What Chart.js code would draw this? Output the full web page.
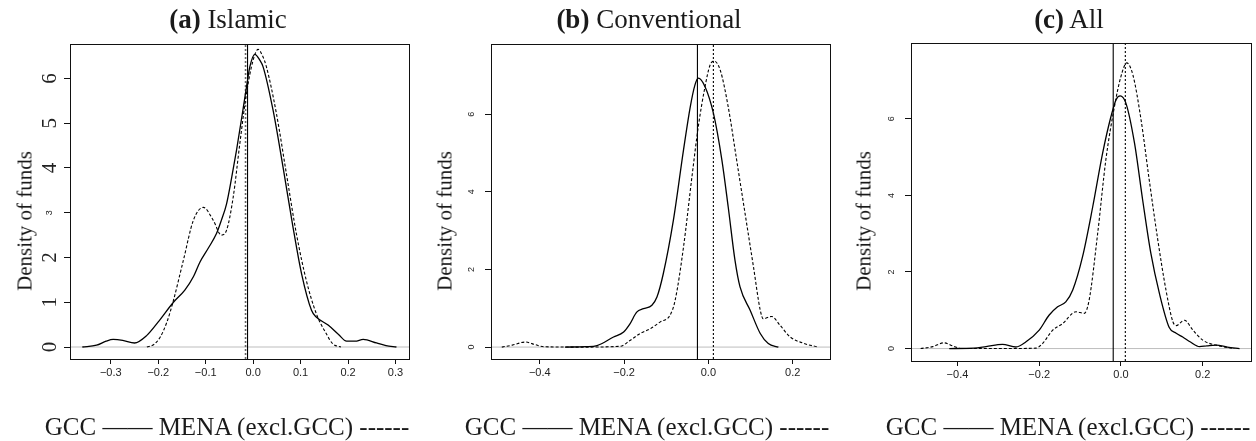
<!DOCTYPE html>
<html>
<head>
<meta charset="utf-8">
<script src="https://cdn.jsdelivr.net/npm/chart.js@4/dist/chart.umd.min.js"></script>
<style>
  html, body { margin: 0; padding: 0; background: #fff; }
  body { width: 1256px; height: 441px; position: relative; overflow: hidden; }
  canvas { position: absolute; top: 0; }
  .txt { position: absolute; white-space: nowrap; font-family: 'Liberation Serif', serif; color: #1a1a1a; line-height: 1; }
  .title { font-size: 27px; transform: translateX(-50%); }
  .legend { font-size: 25px; transform: translateX(-50%); }
  .ytitle { font-size: 21px; transform: translate(-50%, -50%) rotate(-90deg); }
</style>
</head>
<body>
<canvas id="cA" width="420" height="441" style="left:0px"></canvas>
<canvas id="cB" width="416" height="441" style="left:420px"></canvas>
<canvas id="cC" width="420" height="441" style="left:836px"></canvas>

<div class="txt title" style="left:228px;top:6px"><b>(a)</b> Islamic</div>
<div class="txt title" style="left:649px;top:6px"><b>(b)</b> Conventional</div>
<div class="txt title" style="left:1069px;top:6px"><b>(c)</b> All</div>

<div class="txt ytitle" style="left:25px;top:221px">Density of funds</div>
<div class="txt ytitle" style="left:445px;top:221px">Density of funds</div>
<div class="txt ytitle" style="left:864px;top:221px">Density of funds</div>

<div class="txt legend" style="left:227px;top:414px">GCC —— MENA (excl.GCC) ------</div>
<div class="txt legend" style="left:647px;top:414px">GCC —— MENA (excl.GCC) ------</div>
<div class="txt legend" style="left:1068px;top:414px">GCC —— MENA (excl.GCC) ------</div>

<script>
// ---------------- DATA ----------------
// Panel (a) Islamic
const islamicGccX  = [-0.36,-0.33,-0.31,-0.295,-0.275,-0.25,-0.224,-0.2,-0.168,-0.144,-0.126,-0.112,-0.095,-0.077,-0.067,-0.056,-0.045,-0.035,-0.021,-0.014,-0.007,0.0036,0.014,0.021,0.042,0.063,0.084,0.102,0.123,0.133,0.158,0.18,0.197,0.215,0.232,0.26,0.28,0.302];
const islamicGccY  = [0.0,0.04,0.13,0.17,0.15,0.09,0.26,0.56,1.0,1.27,1.57,1.9,2.2,2.54,2.83,3.2,3.8,4.4,5.33,5.81,6.26,6.54,6.41,6.26,5.29,4.02,2.68,1.64,0.82,0.67,0.49,0.28,0.13,0.13,0.17,0.09,0.03,0.0];
const islamicMenaX = [-0.224,-0.21,-0.196,-0.182,-0.168,-0.147,-0.126,-0.105,-0.084,-0.067,-0.056,-0.042,-0.028,-0.014,0.0,0.0105,0.02,0.028,0.049,0.07,0.091,0.112,0.133,0.154,0.168,0.185];
const islamicMenaY = [0.0,0.05,0.22,0.55,1.04,1.94,2.83,3.12,2.83,2.5,2.61,3.35,4.55,5.67,6.41,6.65,6.5,6.26,5.22,3.88,2.54,1.49,0.75,0.3,0.07,0.0];
const islamicMedians = [-0.0118, -0.016];   // GCC, MENA
const islamicXRange = [-0.386, 0.3285];
const islamicYRange = [-0.268, 6.77];
const islamicXTicks = [-0.3,-0.2,-0.1,0.0,0.1,0.2,0.3];
const islamicYTicks = [0,1,2,3,4,5,6];

// Panel (b) Conventional
const convGccX  = [-0.34,-0.29,-0.264,-0.225,-0.201,-0.186,-0.17,-0.154,-0.134,-0.122,-0.107,-0.083,-0.059,-0.043,-0.032,-0.024,-0.008,0.012,0.032,0.047,0.063,0.075,0.099,0.123,0.142,0.166];
const convGccY  = [0.0,0.01,0.04,0.26,0.39,0.6,0.9,0.99,1.08,1.29,1.89,3.27,5.08,6.19,6.75,6.93,6.71,6.02,4.82,3.61,2.24,1.55,0.95,0.35,0.09,0.0];
const convMenaX = [-0.49,-0.465,-0.434,-0.41,-0.391,-0.3,-0.209,-0.186,-0.162,-0.138,-0.114,-0.091,-0.079,-0.059,-0.039,-0.024,-0.008,0.004,0.0135,0.028,0.047,0.067,0.087,0.107,0.123,0.13,0.15,0.17,0.194,0.225,0.26];
const convMenaY = [0.0,0.05,0.13,0.06,0.01,0.0,0.02,0.17,0.35,0.47,0.65,0.82,1.2,2.58,4.39,5.68,6.71,7.27,7.37,7.14,6.19,4.82,3.44,2.06,0.95,0.73,0.79,0.56,0.26,0.1,0.0];
const convMedians = [-0.026, 0.0118];
const convXRange = [-0.5156, 0.2884];
const convYRange = [-0.307, 7.81];
const convXTicks = [-0.4,-0.2,0.0,0.2];
const convYTicks = [0,2,4,6];

// Panel (c) All
const allGccX  = [-0.42,-0.36,-0.33,-0.29,-0.257,-0.233,-0.2,-0.176,-0.155,-0.135,-0.118,-0.094,-0.069,-0.045,-0.0245,-0.012,-0.002,0.012,0.033,0.053,0.073,0.094,0.118,0.135,0.151,0.17,0.192,0.21,0.233,0.26,0.29];
const allGccY  = [0.0,0.01,0.05,0.11,0.04,0.17,0.48,0.87,1.09,1.22,1.53,2.4,3.71,5.1,6.06,6.5,6.6,6.41,5.37,3.88,2.49,1.44,0.55,0.4,0.3,0.17,0.05,0.07,0.09,0.04,0.0];
const allMenaX = [-0.49,-0.46,-0.433,-0.41,-0.39,-0.3,-0.208,-0.192,-0.167,-0.143,-0.11,-0.09,-0.078,-0.057,-0.037,-0.016,0.0,0.014,0.029,0.049,0.069,0.09,0.11,0.127,0.135,0.155,0.176,0.2,0.24,0.277];
const allMenaY = [0.0,0.05,0.15,0.06,0.0,0.0,0.01,0.13,0.48,0.65,0.96,0.92,1.26,3.01,4.93,6.32,7.11,7.46,7.15,5.98,4.41,2.84,1.53,0.7,0.6,0.74,0.48,0.22,0.07,0.0];
const allMedians = [-0.019, 0.0106];
const allXRange = [-0.5136, 0.318];
const allYRange = [-0.325, 7.98];
const allXTicks = [-0.4,-0.2,0.0,0.2];
const allYTicks = [0,2,4,6];

// ---------------- HELPERS ----------------
const zip = (xs, ys) => xs.map((x, i) => ({ x: x, y: ys[i] }));
const fmtX = v => (Math.abs(v) < 1e-9 ? '0.0' : v.toFixed(1)).replace('-', '\u2212');

const framePlugin = {
  id: 'frame',
  afterDraw(chart, args, opts) {
    const ctx = chart.ctx;
    const a = chart.chartArea;
    ctx.save();
    ctx.strokeStyle = '#111';
    ctx.lineWidth = 1;
    ctx.strokeRect(Math.round(a.left) + 0.5, Math.round(a.top) + 0.5,
                   Math.round(a.right - a.left), Math.round(a.bottom - a.top));
    // rotated y tick labels (R style, parallel to axis)
    const ys = chart.scales.y;
    ctx.fillStyle = '#222';
    ctx.textAlign = 'center';
    ctx.textBaseline = 'middle';
    ys.ticks.forEach(t => {
      const py = ys.getPixelForValue(t.value);
      ctx.save();
      ctx.translate(a.left - opts.labelOffset, py);
      ctx.rotate(-Math.PI / 2);
      ctx.font = opts.fontFor(t.value);
      ctx.fillText(String(t.value), 0, 0);
      ctx.restore();
    });
    ctx.restore();
  }
};

function makePanel(id, gcc, mena, medians, xr, yr, xt, yt, lay) {
  const datasets = [
    { data: gcc, borderColor: '#000', borderWidth: 1.3, cubicInterpolationMode: 'monotone', pointRadius: 0 },
    { data: mena, borderColor: '#000', borderWidth: 1.1, borderDash: [3, 2], cubicInterpolationMode: 'monotone', pointRadius: 0 },
    { data: [{ x: medians[0], y: yr[0] }, { x: medians[0], y: yr[1] }], borderColor: '#000', borderWidth: 1.1, pointRadius: 0 },
    { data: [{ x: medians[1], y: yr[0] }, { x: medians[1], y: yr[1] }], borderColor: lay.medDashColor, borderWidth: lay.medDashWidth, borderDash: [2, 2], pointRadius: 0 },
    { data: [{ x: xr[0], y: 0 }, { x: xr[1], y: 0 }], borderColor: '#bdbdbd', borderWidth: 1, pointRadius: 0 }
  ];
  return new Chart(document.getElementById(id), {
    type: 'line',
    data: { datasets: datasets },
    options: {
      responsive: false,
      animation: false,
      events: [],
      layout: { padding: { top: lay.top, right: lay.right, left: 0, bottom: 0 } },
      plugins: {
        legend: { display: false },
        tooltip: { enabled: false },
        frame: { labelOffset: lay.labelOffset, fontFor: lay.fontFor }
      },
      scales: {
        x: {
          type: 'linear', min: xr[0], max: xr[1],
          afterBuildTicks: s => { s.ticks = xt.map(v => ({ value: v })); },
          afterFit: s => { s.height = lay.xAxisH; },
          border: { display: false },
          grid: { display: true, drawOnChartArea: false, drawTicks: true, tickLength: 5, color: '#111', lineWidth: 1 },
          ticks: { color: '#222', font: { family: 'Liberation Sans', size: 11 }, padding: 2, maxRotation: 0, callback: v => fmtX(v) }
        },
        y: {
          type: 'linear', min: yr[0], max: yr[1],
          afterBuildTicks: s => { s.ticks = yt.map(v => ({ value: v })); },
          afterFit: s => { s.width = lay.left; },
          border: { display: false },
          grid: { display: true, drawOnChartArea: false, drawTicks: true, tickLength: 6, color: '#111', lineWidth: 1 },
          ticks: { display: false }
        }
      }
    },
    plugins: [framePlugin]
  });
}

const sansSmall = () => '9px "Liberation Sans"';
makePanel('cA', zip(islamicGccX, islamicGccY), zip(islamicMenaX, islamicMenaY), islamicMedians,
  islamicXRange, islamicYRange, islamicXTicks, islamicYTicks,
  { top: 44, right: 11, left: 70, xAxisH: 82, labelOffset: 20, medDashColor: '#666', medDashWidth: 1.6,
    fontFor: v => (v === 3 ? '9px "Liberation Sans"' : '21px "Liberation Serif"') });
makePanel('cB', zip(convGccX, convGccY), zip(convMenaX, convMenaY), convMedians,
  convXRange, convYRange, convXTicks, convYTicks,
  { top: 44, right: 6, left: 71, xAxisH: 82, labelOffset: 19, medDashColor: '#000', medDashWidth: 1.1, fontFor: sansSmall });
makePanel('cC', zip(allGccX, allGccY), zip(allMenaX, allMenaY), allMedians,
  allXRange, allYRange, allXTicks, allYTicks,
  { top: 43, right: 5, left: 75, xAxisH: 80, labelOffset: 19, medDashColor: '#000', medDashWidth: 1.1, fontFor: sansSmall });
</script>
</body>
</html>
